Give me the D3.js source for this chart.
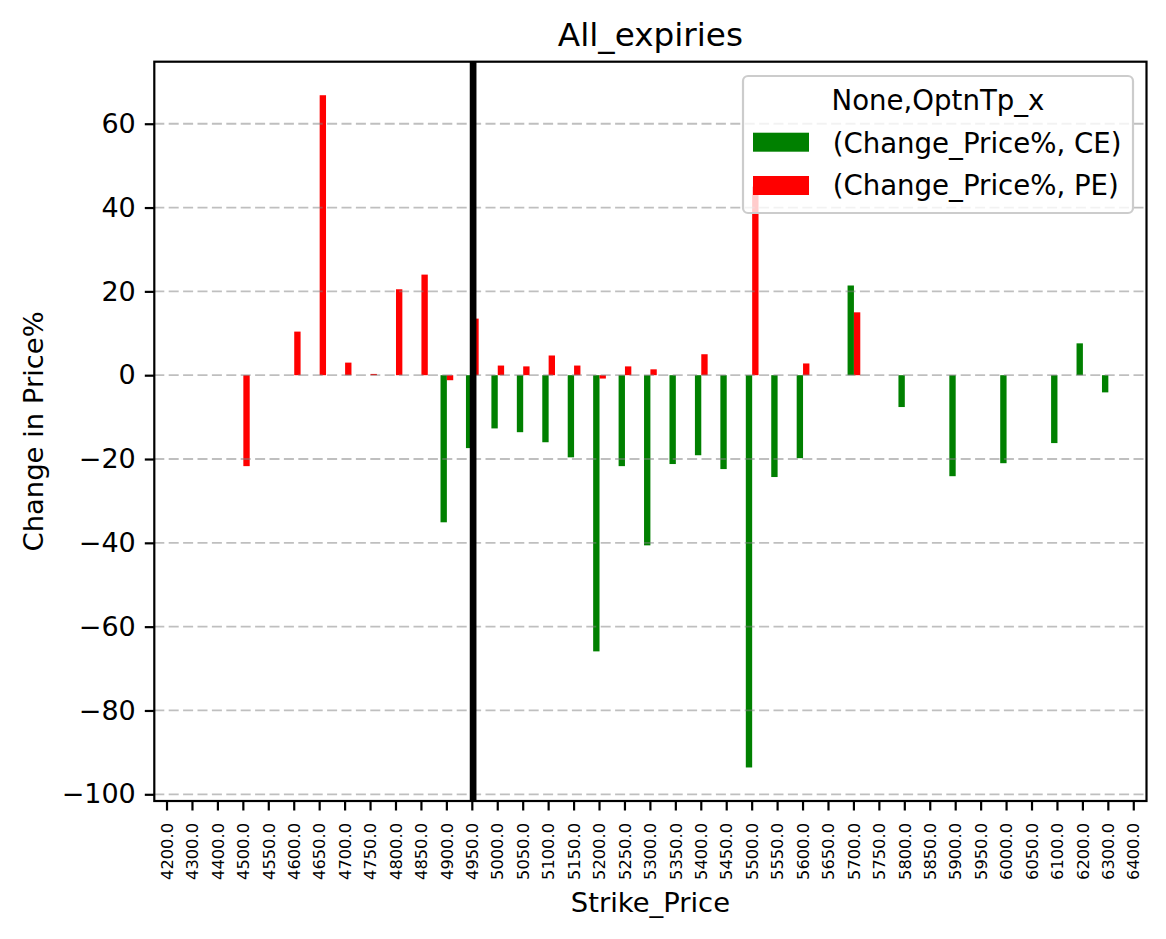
<!DOCTYPE html>
<html>
<head>
<meta charset="utf-8">
<script src="https://cdn.jsdelivr.net/npm/d3@7"></script>
<style>
  html, body { margin: 0; padding: 0; background: #fff; }
  svg { display: block; font-family: "DejaVu Sans", sans-serif; }
</style>
</head>
<body>
<svg id="chart" width="1166" height="939"></svg>
<script>
// ---- data ----
const strikes = [4200,4300,4400,4500,4550,4600,4650,4700,4750,4800,4850,4900,4950,5000,5050,5100,5150,5200,5250,5300,5350,5400,5450,5500,5550,5600,5650,5700,5750,5800,5850,5900,5950,6000,6050,6100,6200,6300,6400];
const ceValues = [null,null,null,null,null,null,null,null,null,null,null,-35.1,-17.4,-12.7,-13.6,-16.0,-19.6,-65.9,-21.7,-40.6,-21.2,-19.1,-22.4,-93.6,-24.3,-19.8,null,21.4,null,-7.6,null,-24.1,null,-21.0,null,-16.2,7.6,-4.1,null];
const peValues = [null,null,null,-21.7,null,10.4,66.8,3.0,0.3,20.5,24.0,-1.2,13.5,2.3,2.1,4.7,2.3,-0.8,2.1,1.4,null,5.0,null,45.0,null,2.8,null,15.0,null,null,null,null,null,null,null,null,null,null,null];
const yTicks = [-100,-80,-60,-40,-20,0,20,40,60];
const seriesNames = ["(Change_Price%, CE)", "(Change_Price%, PE)"];
const seriesColors = ["green", "red"];
const legendTitle = "None,OptnTp_x";
const markerStrike = 4950;
const titleText = "All_expiries";
const xLabel = "Strike_Price";
const yLabel = "Change in Price%";

// ---- layout ----
const L = 154.3, R = 1146.5, T = 61.7, B = 801;
const svg = d3.select("#chart");

const x = d3.scaleBand().domain(strikes).range([L, R]).padding(0);
const bw = x.bandwidth();
const cx = s => x(s) + bw / 2;
const y = d3.scaleLinear().domain([-101.6, 74.8]).range([B, T]);

// bars
const barW = bw * 0.25;
const series = [ceValues, peValues];
series.forEach((vals, si) => {
  svg.append("g").selectAll("rect")
    .data(strikes.map((s, i) => ({s, v: vals[i]})).filter(d => d.v !== null))
    .join("rect")
    .attr("x", d => si === 0 ? cx(d.s) - barW : cx(d.s))
    .attr("width", barW)
    .attr("y", d => Math.min(y(d.v), y(0)))
    .attr("height", d => Math.abs(y(d.v) - y(0)))
    .attr("fill", seriesColors[si]);
});

// grid (above bars, like matplotlib)
svg.append("g").selectAll("line")
  .data(yTicks).join("line")
  .attr("x1", L).attr("x2", R)
  .attr("y1", d => y(d)).attr("y2", d => y(d))
  .attr("stroke", "gray").attr("stroke-opacity", 0.5)
  .attr("stroke-width", 1.8).attr("stroke-dasharray", "10,4.4");

// vertical marker line
svg.append("line")
  .attr("x1", cx(markerStrike) + 0.8).attr("x2", cx(markerStrike) + 0.8)
  .attr("y1", T).attr("y2", B)
  .attr("stroke", "black").attr("stroke-width", 6.7);

// axes
const yAxis = d3.axisLeft(y).tickValues(yTicks).tickSize(9.5).tickPadding(9)
  .tickFormat(d => d < 0 ? "\u2212" + Math.abs(d) : String(d));
const gy = svg.append("g").attr("transform", `translate(${L},0)`).call(yAxis);
gy.select(".domain").remove();
gy.selectAll(".tick line").attr("stroke", "black").attr("stroke-width", 2.2);
gy.selectAll(".tick text").attr("font-size", 27).attr("fill", "black")
  .attr("font-family", "DejaVu Sans");

const xAxis = d3.axisBottom(x).tickSize(9.5).tickFormat(d => d.toFixed(1));
const gx = svg.append("g").attr("transform", `translate(0,${B})`).call(xAxis);
gx.select(".domain").remove();
gx.selectAll(".tick line").attr("stroke", "black").attr("stroke-width", 2.2);
gx.selectAll(".tick text")
  .attr("font-size", 16.3).attr("fill", "black").attr("font-family", "DejaVu Sans")
  .attr("transform", "rotate(-90)")
  .attr("text-anchor", "end")
  .attr("x", -22).attr("y", 0).attr("dy", "0.35em");

// frame
svg.append("rect").attr("x", L).attr("y", T).attr("width", R - L).attr("height", B - T)
  .attr("fill", "none").attr("stroke", "black").attr("stroke-width", 2.2);

// title & labels
svg.append("text").attr("x", (L + R) / 2).attr("y", 45.7).attr("text-anchor", "middle")
  .attr("font-size", 32.7).text(titleText);
svg.append("text").attr("x", (L + R) / 2).attr("y", 911.7).attr("text-anchor", "middle")
  .attr("font-size", 27.4).text(xLabel);
svg.append("text").attr("transform", `translate(43,${(T + B) / 2}) rotate(-90)`)
  .attr("text-anchor", "middle").attr("font-size", 27.4).text(yLabel);

// legend
const lg = svg.append("g");
lg.append("rect").attr("x", 743).attr("y", 76).attr("width", 390).attr("height", 137)
  .attr("rx", 5).attr("fill", "white").attr("fill-opacity", 0.8)
  .attr("stroke", "#cccccc").attr("stroke-width", 2.2);
lg.append("text").attr("x", 938).attr("y", 110).attr("text-anchor", "middle")
  .attr("font-size", 27.6).text(legendTitle);
seriesNames.forEach((name, i) => {
  const py = [132.7, 176][i];
  lg.append("rect").attr("x", 753).attr("y", py).attr("width", 56).attr("height", 19)
    .attr("fill", seriesColors[i]);
  lg.append("text").attr("x", 832.7).attr("y", [152.7, 195][i])
    .attr("font-size", 27.6).text(name);
});
</script>
</body>
</html>
